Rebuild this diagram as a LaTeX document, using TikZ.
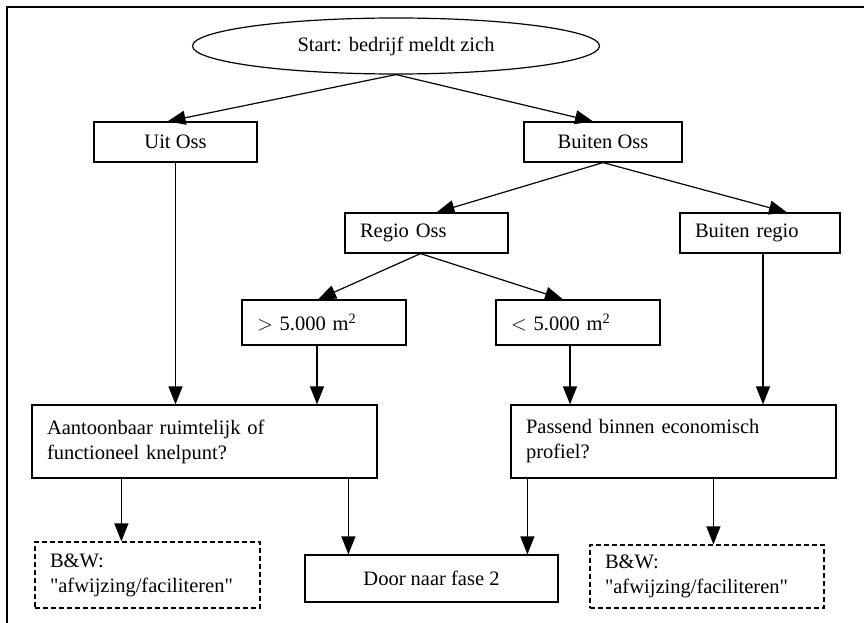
\documentclass[tikz,border=0pt]{standalone}
\usepackage{fontspec}
\setmainfont{Liberation Serif}[Ligatures=TeXOff]
\usetikzlibrary{shapes.geometric,arrows.meta}
\begin{document}
\begin{tikzpicture}[x=1pt,y=-1pt,
  every node/.style={font=\fontsize{20.5}{25}\selectfont, line width=1.2pt, inner sep=0pt},
  cbox/.style={draw, rectangle, align=center},
  lbox/.style={draw, rectangle, align=left, inner xsep=15pt},
  dbox/.style={lbox, dashed, dash pattern=on 5pt off 3pt},
  arr/.style={line width=1.2pt, -{Triangle[length=18pt,width=14pt]}},
]
\useasboundingbox (0,0) rectangle (864,623);
\draw[line width=1.5pt] (7,623) -- (7,7) -- (864,7);

\node[draw, ellipse, minimum width=407pt, minimum height=56pt] (start) at (396,46) {Start: bedrijf meldt zich};
\node[cbox, minimum width=163pt, minimum height=40pt] (uit) at (175.5,142) {Uit Oss};
\node[cbox, minimum width=158pt, minimum height=40pt] (buiten) at (603,142) {Buiten Oss};
\node[lbox, text width=133pt, minimum height=40pt] (regio) at (426.5,233) {Regio Oss};
\node[lbox, text width=130pt, minimum height=40pt] (bregio) at (760,233) {Buiten regio};
\node[lbox, text width=134pt, minimum height=45pt] (gt) at (324,322.5) {$>$ 5.000 m\textsuperscript{2}};
\node[lbox, text width=134pt, minimum height=45pt] (lt) at (578,322.5) {$<$ 5.000 m\textsuperscript{2}};
\node[lbox, text width=315pt, minimum height=73pt] (aant) at (204.5,441.5) {Aantoonbaar ruimtelijk of\\functioneel knelpunt?};
\node[lbox, text width=295pt, minimum height=73pt] (pass) at (673.5,441.5) {Passend binnen economisch\\profiel?};
\node[dbox, text width=195pt, minimum height=66pt] (bw1) at (147.5,575) {B\&W:\\"afwijzing/faciliteren"};
\node[cbox, minimum width=253pt, minimum height=47pt] (door) at (431.5,578.5) {Door naar fase 2};
\node[dbox, text width=204pt, minimum height=63pt] (bw2) at (707,576.5) {B\&W:\\"afwijzing/faciliteren"};

\draw[arr] (start.south) -- ([xshift=-8pt]uit.north);
\draw[arr] (start.south) -- ([xshift=-10pt]buiten.north);
\draw[arr] (buiten.south) -- ([xshift=10pt]regio.north);
\draw[arr] (buiten.south) -- ([xshift=27pt]bregio.north);
\draw[arr] ([xshift=-6pt]regio.south) -- ([xshift=-6pt]gt.north);
\draw[arr] ([xshift=-6pt]regio.south) -- ([xshift=-15pt]lt.north);

\draw[arr] (uit.south) -- (uit.south |- aant.north);
\draw[arr] ([xshift=-7pt]gt.south) -- ([xshift=-7pt]gt.south |- aant.north);
\draw[arr] ([xshift=-8pt]lt.south) -- ([xshift=-8pt]lt.south |- pass.north);
\draw[arr] ([xshift=3pt]bregio.south) -- ([xshift=3pt]bregio.south |- pass.north);

\draw[arr] ([xshift=90pt]aant.south west) -- ([xshift=90pt]aant.south west |- bw1.north);
\draw[arr] ([xshift=317pt]aant.south west) -- ([xshift=317pt]aant.south west |- door.north);
\draw[arr] ([xshift=17pt]pass.south west) -- ([xshift=17pt]pass.south west |- door.north);
\draw[arr] ([xshift=203pt]pass.south west) -- ([xshift=203pt]pass.south west |- bw2.north);
\end{tikzpicture}
\end{document}
